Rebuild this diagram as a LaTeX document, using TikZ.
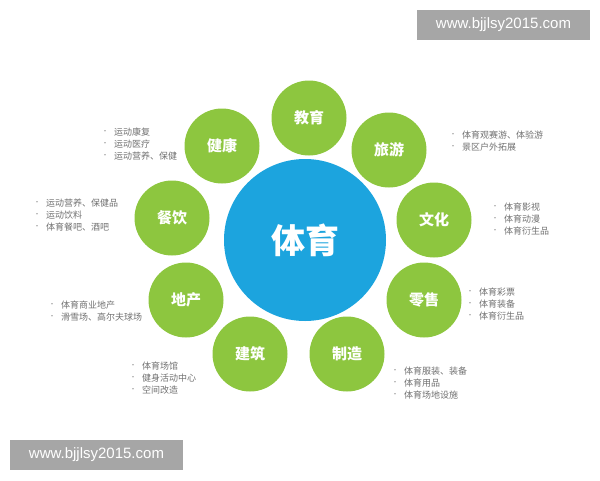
\documentclass[tikz,border=0pt]{standalone}
\usepackage{fontspec}
\setmainfont{Noto Sans CJK SC}
\setsansfont{Liberation Sans}
\definecolor{gr}{HTML}{8DC63F}
\definecolor{bl}{HTML}{1CA4DE}
\definecolor{tx}{HTML}{707070}
\definecolor{wm}{HTML}{A6A6A6}
\begin{document}
\begin{tikzpicture}[x=1pt,y=-1pt,
  small/.style={circle,fill=gr,minimum size=75pt,inner sep=0pt,text=white,font=\fontsize{15}{15}\selectfont\bfseries},
  lst/.style={align=left,anchor=west,text=tx,font=\fontsize{9}{12}\selectfont,inner sep=0pt},
  wmark/.style={fill=wm,text=white,font=\sffamily\fontsize{15}{15}\selectfont,minimum width=173pt,minimum height=30pt,inner sep=0pt}]
\useasboundingbox (0,0) rectangle (600,480);
\node[circle,fill=bl,minimum size=162pt,inner sep=0pt,text=white,font=\fontsize{34}{34}\selectfont\bfseries] (c) at (305,240) {体育};
\node[small] (a1) at (309,118) {教育};
\node[small] (a2) at (389,150) {旅游};
\node[small] (a3) at (434,220) {文化};
\node[small] (a4) at (424,300) {零售};
\node[small] (a5) at (347,354) {制造};
\node[small] (a6) at (250,354) {建筑};
\node[small] (a7) at (186,300) {地产};
\node[small] (a8) at (172,218) {餐饮};
\node[small] (a9) at (222,146) {健康};
\newcommand{\bl}{\raisebox{1.5pt}{\fontsize{6}{6}\selectfont\textbullet}\hspace{6pt}}
\node[lst] (t9) at (102,144) {\bl 运动康复\\ \bl 运动医疗\\ \bl 运动营养、保健};
\node[lst] (t8) at (34,215) {\bl 运动营养、保健品\\ \bl 运动饮料\\ \bl 体育餐吧、酒吧};
\node[lst] (t7) at (49,311) {\bl 体育商业地产\\ \bl 滑雪场、高尔夫球场};
\node[lst] (t6) at (130,378) {\bl 体育场馆\\ \bl 健身活动中心\\ \bl 空间改造};
\node[lst] (t5) at (392,383) {\bl 体育服装、装备\\ \bl 体育用品\\ \bl 体育场地设施};
\node[lst] (t4) at (467,304) {\bl 体育彩票\\ \bl 体育装备\\ \bl 体育衍生品};
\node[lst] (t3) at (492,219) {\bl 体育影视\\ \bl 体育动漫\\ \bl 体育衍生品};
\node[lst] (t2) at (450,141) {\bl 体育观赛游、体验游\\ \bl 景区户外拓展};
\node[wmark] (w1) at (503.5,25) {www.bjjlsy2015.com};
\node[wmark] (w2) at (96.5,455) {www.bjjlsy2015.com};
\end{tikzpicture}
\end{document}
